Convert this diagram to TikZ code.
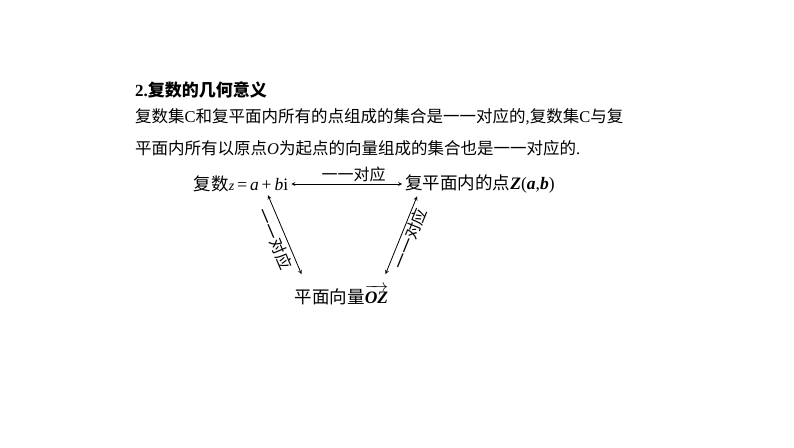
\documentclass[tikz,border=0pt]{standalone}
\usepackage{amsmath}
\usepackage{fontspec}
\setmainfont{Liberation Serif}
\newfontfamily\cjk{Noto Sans CJK SC}
\usetikzlibrary{positioning}
\newcommand\lat[1]{{\rmfamily #1}}
\newcommand\ital[1]{{\rmfamily\itshape #1}}
\tikzset{
  txt/.style={font=\cjk\fontsize{16.5}{20}\selectfont, inner sep=0pt},
  dia/.style={font=\cjk\fontsize{17.5}{20}\selectfont, inner sep=1pt},
  corr/.style={<->, >=stealth, line width=0.8pt},
  lab/.style={font=\cjk\fontsize{16}{18}\selectfont, inner sep=2pt}
}
\begin{document}
\begin{tikzpicture}[x=1pt, y=1pt, node distance=239pt]
		\useasboundingbox (0,0) rectangle (794,-447);
		\node[txt, anchor=west, font=\cjk\bfseries\fontsize{17}{20}\selectfont] (title) at (135,-89.5) {\lat{\bfseries 2.}复数的几何意义};
		\node[txt, anchor=west] (line2) at ([yshift=-27.5pt]title.west) {复数集\lat{C}和复平面内所有的点组成的集合是一一对应的\lat{,}复数集\lat{C}与复};
		\node[txt, anchor=west] (line3) at ([yshift=-31pt]line2.west) {平面内所有以原点\ital{O}为起点的向量组成的集合也是一一对应的\lat{.}};
		\node[dia] (num) at (241,-184) {复数{\fontsize{14}{16}\selectfont\ital{z}}\lat{\,=\,}\ital{a}\lat{\,+\,}\ital{b}\lat{i}};
		\node[dia] (pt) [right of=num] {复平面内的点\ital{\bfseries Z}\lat{(}\ital{\bfseries a}\lat{,}\ital{\bfseries b}\lat{)}};
		\node[dia] (vec) at (341.5,-295) {平面向量$\overrightarrow{\mbox{\ital{\bfseries OZ}}}$};
		\draw[corr, shorten <=2pt, shorten >=2pt] (num.east) to node[lab, above, pos=0.56] {一一对应} (pt.west);
		\draw[corr] ([xshift=27pt,yshift=-2pt]num.south) to node[lab, sloped, below, inner sep=3pt] {一一对应} ([xshift=-40pt,yshift=10pt]vec.north);
		\draw[corr] ([xshift=44pt,yshift=10pt]vec.north) to node[lab, sloped, below, inner sep=1pt] {一一对应} ([xshift=-63pt,yshift=-2pt]pt.south);
\end{tikzpicture}
\end{document}
